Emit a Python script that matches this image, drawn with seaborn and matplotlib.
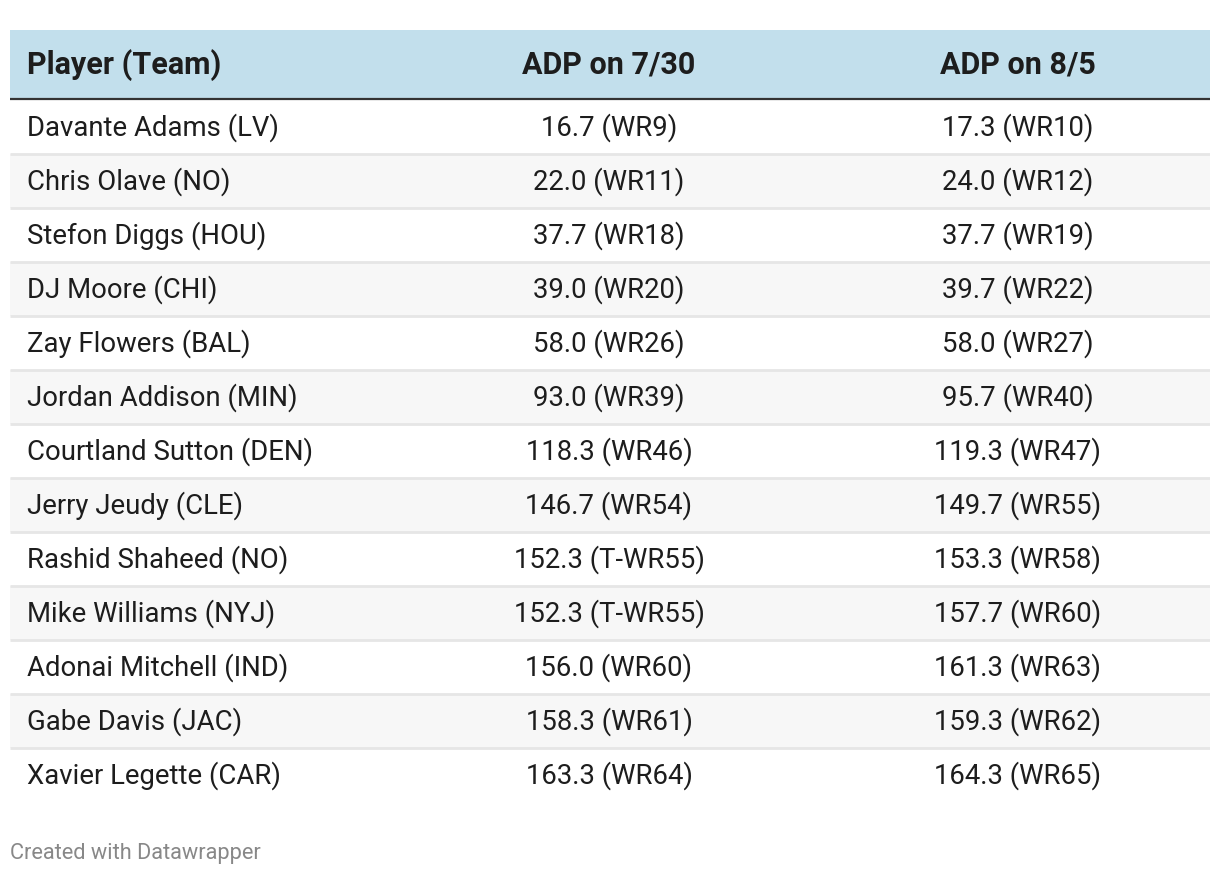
import matplotlib
matplotlib.use("Agg")
import matplotlib.pyplot as plt
import seaborn as sns
import numpy as np

players = ["Davante Adams (LV)", "Chris Olave (NO)", "Stefon Diggs (HOU)", "DJ Moore (CHI)",
           "Zay Flowers (BAL)", "Jordan Addison (MIN)", "Courtland Sutton (DEN)", "Jerry Jeudy (CLE)",
           "Rashid Shaheed (NO)", "Mike Williams (NYJ)", "Adonai Mitchell (IND)", "Gabe Davis (JAC)",
           "Xavier Legette (CAR)"]
adp_730 = [16.7, 22.0, 37.7, 39.0, 58.0, 93.0, 118.3, 146.7, 152.3, 152.3, 156.0, 158.3, 163.3]
rank_730 = ["WR9", "WR11", "WR18", "WR20", "WR26", "WR39", "WR46", "WR54", "T-WR55", "T-WR55", "WR60", "WR61", "WR64"]
adp_85 = [17.3, 24.0, 37.7, 39.7, 58.0, 95.7, 119.3, 149.7, 153.3, 157.7, 161.3, 159.3, 164.3]
rank_85 = ["WR10", "WR12", "WR19", "WR22", "WR27", "WR40", "WR47", "WR55", "WR58", "WR60", "WR63", "WR62", "WR65"]
headers = ["Player (Team)", "ADP on 7/30", "ADP on 8/5"]
footer = "Created with Datawrapper"

sns.set_theme(style="white")
plt.rcParams['font.family'] = ['Roboto', 'DejaVu Sans']

W, H = 1220, 876
fig = plt.figure(figsize=(W / 100, H / 100), dpi=100)

# geometry (pixels)
left, right = 10, 1210
head_top, head_bot = 30, 98
body_top = 100
row_h = 54
n = len(players)

# stripes via seaborn heatmap
stripe = np.array([[i % 2] for i in range(n)], dtype=float)
hax = fig.add_axes([left / W, 1 - (body_top + n * row_h) / H, (right - left) / W, n * row_h / H])
sns.heatmap(stripe, ax=hax, cmap=matplotlib.colors.ListedColormap(["#ffffff", "#f7f7f7"]),
            cbar=False, xticklabels=False, yticklabels=False, vmin=0, vmax=1)
hax.hlines(np.arange(1, n), 0, 1, colors="#e6e6e6", linewidth=2)
hax.set_zorder(1)

ax = fig.add_axes([0, 0, 1, 1])
ax.set_xlim(0, W)
ax.set_ylim(H, 0)
ax.axis("off")
ax.patch.set_alpha(0)
ax.set_zorder(2)

ax.add_patch(plt.Rectangle((left, head_top), right - left, head_bot - head_top, color="#c2dfec", lw=0))
ax.hlines(99, left, right, colors="#333333", linewidth=1.6)

col_x = [27, 609, 1018]
hy = (head_top + head_bot) / 2 + 1
hfs, bfs = 22, 19.8
ax.text(col_x[0], hy, headers[0], ha="left", va="center", fontsize=hfs, fontweight="bold", color="#1d1d1d")
ax.text(col_x[1], hy, headers[1], ha="center", va="center", fontsize=hfs, fontweight="bold", color="#1d1d1d")
ax.text(col_x[2], hy, headers[2], ha="center", va="center", fontsize=hfs, fontweight="bold", color="#1d1d1d")

for i in range(n):
    y = body_top + row_h * i + row_h / 2 + 1
    ax.text(col_x[0], y, players[i], ha="left", va="center", fontsize=bfs, color="#1d1d1d")
    ax.text(col_x[1], y, f"{adp_730[i]:.1f} ({rank_730[i]})", ha="center", va="center", fontsize=bfs, color="#1d1d1d")
    ax.text(col_x[2], y, f"{adp_85[i]:.1f} ({rank_85[i]})", ha="center", va="center", fontsize=bfs, color="#1d1d1d")

ax.text(10, 853, footer, ha="left", va="center", fontsize=15.7, color="#888888")

fig.savefig("out.png", dpi=100)
